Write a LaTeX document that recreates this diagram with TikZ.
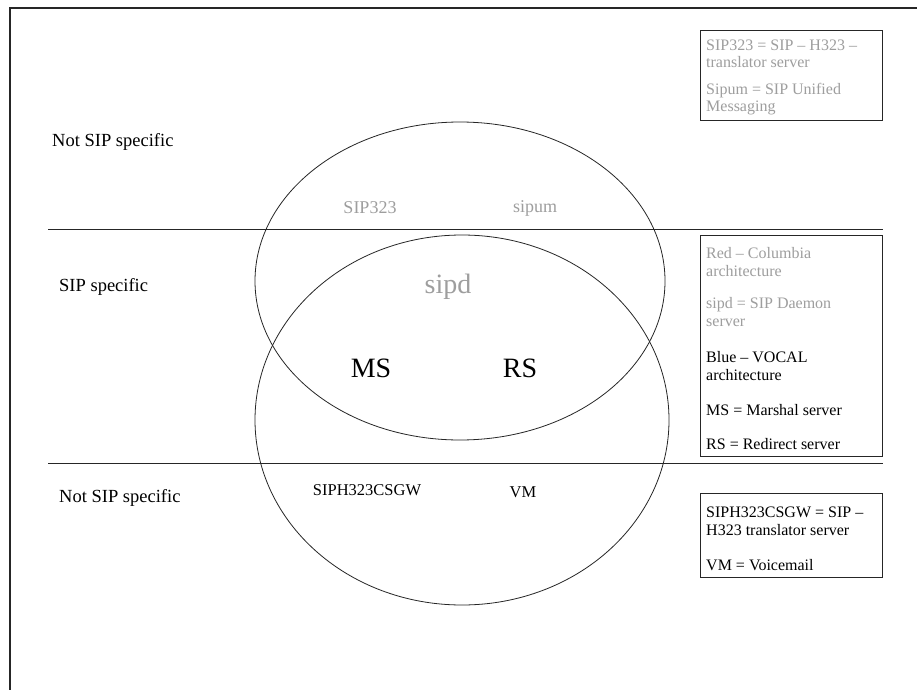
\documentclass[tikz,border=0pt]{standalone}
\usepackage{fontspec}
\setmainfont{Liberation Serif}
\begin{document}
\begin{tikzpicture}[x=1pt,y=-1pt,
  frame/.style={line width=1.6pt,draw=black!85},
  rule/.style={line width=0.9pt,draw=black!85},
  ring/.style={line width=0.8pt,draw=black!85},
  legend/.style={line width=0.9pt,draw=black!85},
  zone/.style={font=\fontsize{18.5}{20}\selectfont,anchor=west,inner sep=0pt},
  big/.style={font=\fontsize{28}{30}\selectfont,inner sep=0pt},
  mid/.style={font=\fontsize{18}{20}\selectfont,inner sep=0pt},
  small/.style={font=\fontsize{16.5}{18}\selectfont,inner sep=0pt},
  entry/.style={font=\fontsize{16}{18}\selectfont,anchor=west,inner sep=0pt},
  faint/.style={text=black!38}]
\useasboundingbox (0,0) rectangle (917,690);
\fill[white] (0,0) rectangle (917,690);

% outer frame (top and left edges only)
\coordinate (ftl) at (10,8);
\coordinate (ftr) at (917,8);
\coordinate (fbl) at (10,690);
\draw[frame] (ftr) -- (ftl) -- (fbl);

% zone separators
\coordinate (r1a) at (48,229);
\coordinate (r1b) at (883,229);
\coordinate (r2a) at (48,463);
\coordinate (r2b) at (883,463);
\draw[rule] (r1a) -- (r1b);
\draw[rule] (r2a) -- (r2b);

% the two overlapping sets
\draw[ring] (460,281) ellipse [x radius=205, y radius=159];
\draw[ring] (462,420) ellipse [x radius=207, y radius=185];

% zone labels
\node[zone] (z1) at (52,142) {Not SIP specific};
\node[zone] (z2) at (59,287) {SIP specific};
\node[zone] (z3) at (59,498) {Not SIP specific};

% set members
\node[mid,faint] (sip323) at (370,208) {SIP323};
\node[mid,faint] (sipum) at (535,208) {sipum};
\node[big,faint] (sipd) at (448,287) {sipd};
\node[big] (ms) at (371,368) {MS};
\node[big] (rs) at (520,368) {RS};
\node[small] (gw) at (367,490) {SIPH323CSGW};
\node[small] (vm) at (523,492) {VM};

% legend boxes
\draw[legend] (700,30) rectangle (882,120);
\node[entry,faint] at (706,45) {SIP323 = SIP -- H323 --};
\node[entry,faint] at (706,62) {translator server};
\node[entry,faint] at (706,91) {Sipum = SIP Unified};
\node[entry,faint] at (706,108) {Messaging};

\draw[legend] (700,235) rectangle (882,456);
\node[entry,faint] at (706,253) {Red -- Columbia};
\node[entry,faint] at (706,271) {architecture};
\node[entry,faint] at (706,305) {sipd = SIP Daemon};
\node[entry,faint] at (706,323) {server};
\node[entry] at (706,357) {Blue -- VOCAL};
\node[entry] at (706,375) {architecture};
\node[entry] at (706,410) {MS = Marshal server};
\node[entry] at (706,444) {RS = Redirect server};

\draw[legend] (700,493) rectangle (882,577);
\node[entry] at (706,512) {SIPH323CSGW = SIP --};
\node[entry] at (706,530) {H323 translator server};
\node[entry] at (706,565) {VM = Voicemail};
\end{tikzpicture}
\end{document}
